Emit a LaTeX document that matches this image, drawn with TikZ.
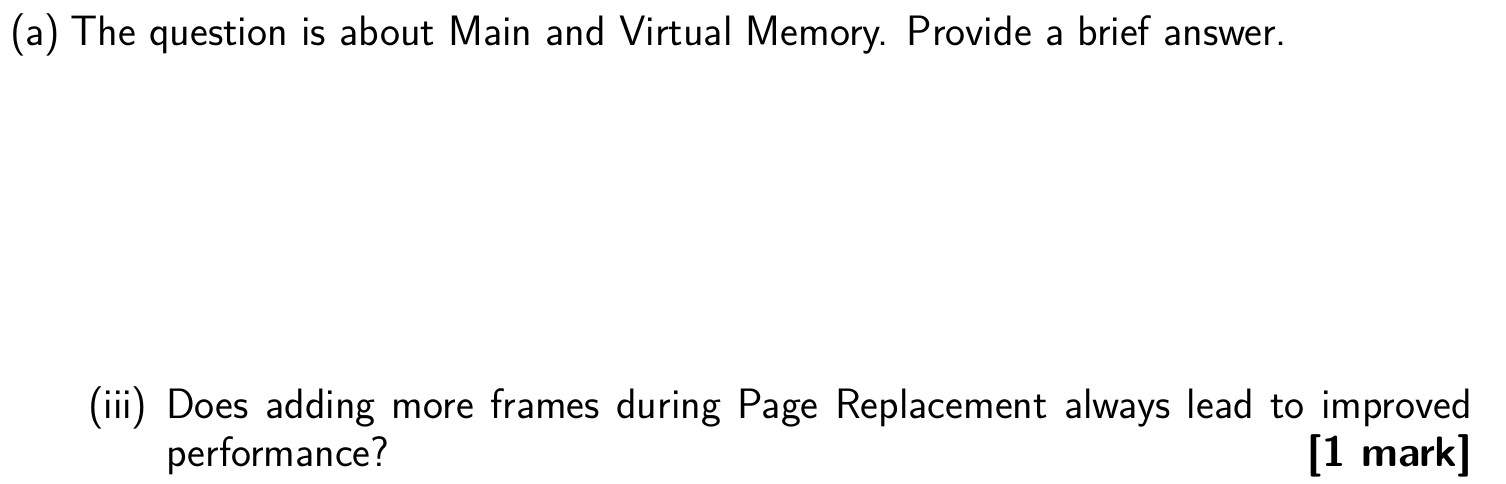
\documentclass[tikz,border=0pt]{standalone}
\begin{document}
\begin{tikzpicture}[x=1pt,y=-1pt,
  txt/.style={inner sep=0pt,outer sep=0pt,font=\fontsize{42.5}{48}\selectfont\sffamily}]
\useasboundingbox (0,0) rectangle (1506,484);
\node[txt,anchor=base west] (l1) at (10,46) {(a)\hspace{10pt}The question is about Main and Virtual Memory. Provide a brief answer.};
\node[txt,anchor=base west] (n3) at (88,418) {(iii)};
\node[txt,anchor=base west,text width=1306pt,align=justify] (q) at (166,418) {\hyphenpenalty=10000 Does adding more frames during Page Replacement always lead to improved\linebreak performance?\hfill{\sffamily\bfseries [1 mark]}};
\end{tikzpicture}
\end{document}
